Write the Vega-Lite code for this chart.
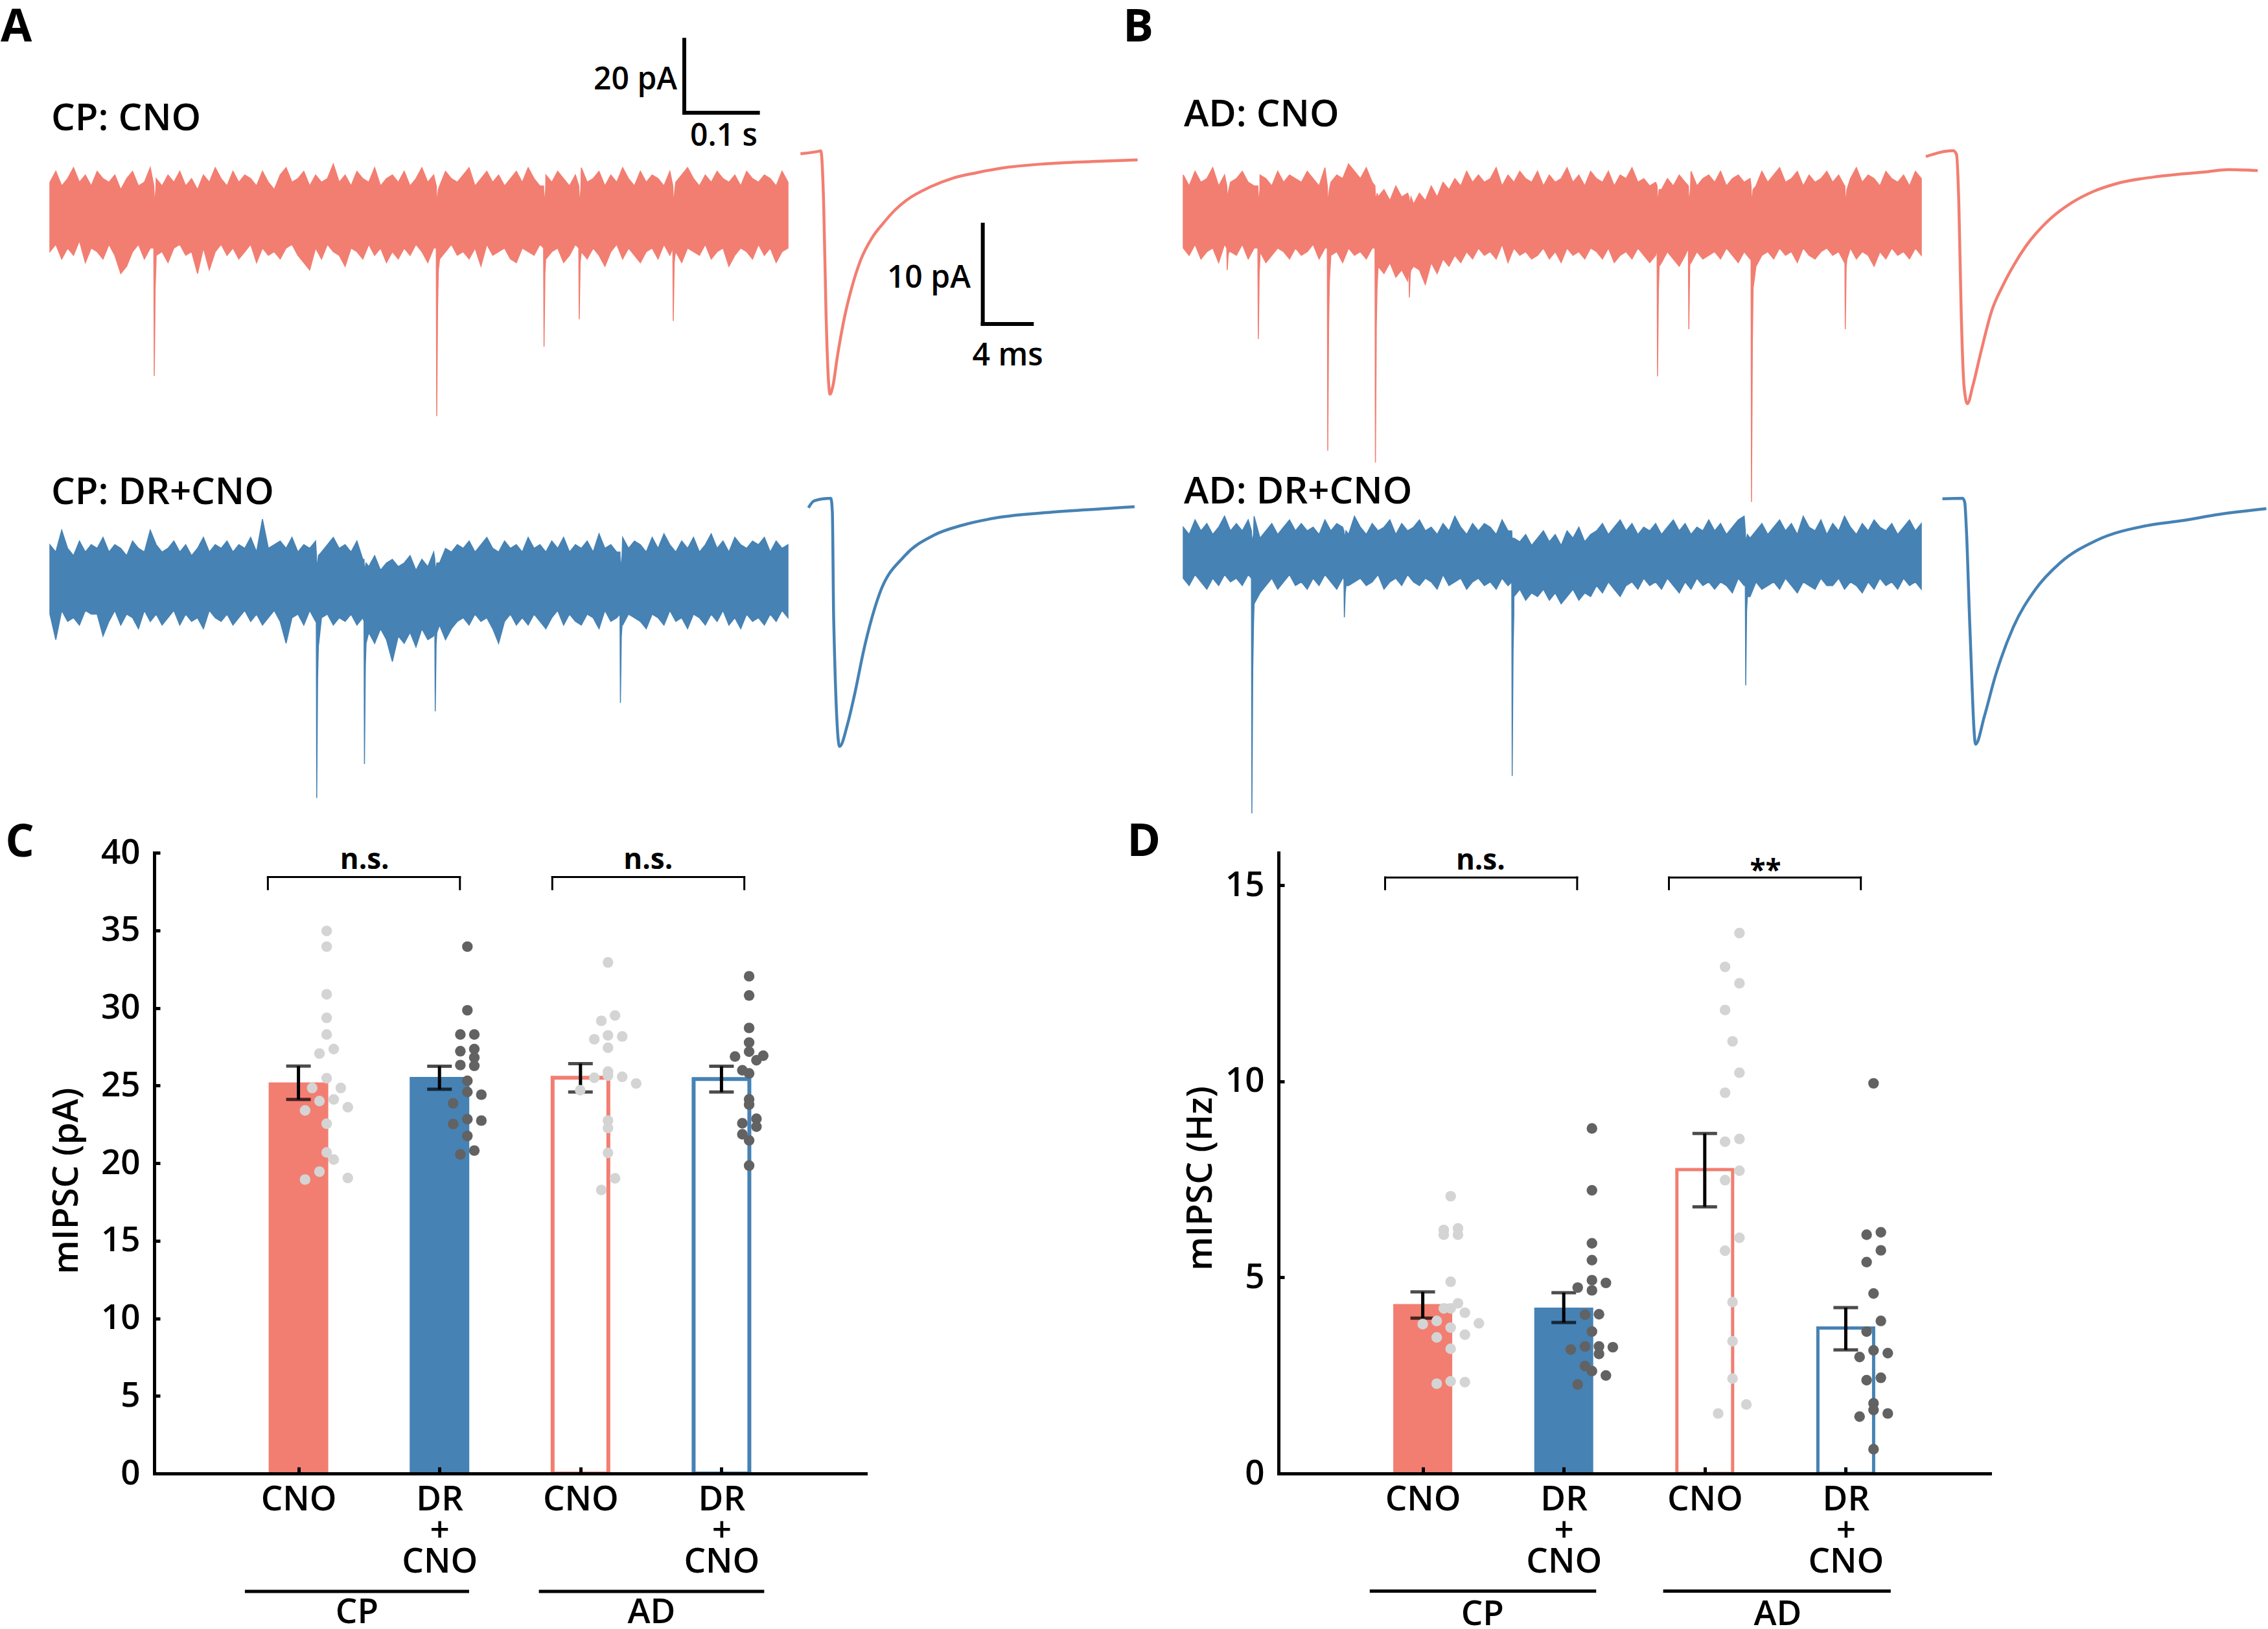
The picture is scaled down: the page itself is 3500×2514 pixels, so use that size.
{
"$schema":"https://vega.github.io/schema/vega-lite/v6.json",
"padding":0,
"background":"white",
"config":{"view":{"stroke":null},"axis":{"grid":false},"font":"Open Sans"},
"datasets":{
"a1":[{"t":0,"h":9,"l":-10},{"t":8,"h":12,"l":-8},{"t":16,"h":8,"l":-12},{"t":24,"h":10,"l":-9},{"t":32,"h":13,"l":-11},{"t":40,"h":9,"l":-7},{"t":48,"h":11,"l":-13},{"t":56,"h":8,"l":-9},{"t":64,"h":12,"l":-10},{"t":72,"h":10,"l":-12},
{"t":80,"h":9,"l":-8},{"t":88,"h":11,"l":-11},{"t":96,"h":7,"l":-16},{"t":104,"h":10,"l":-14},{"t":112,"h":12,"l":-10},{"t":120,"h":8,"l":-8},{"t":128,"h":9,"l":-12},{"t":136,"h":13,"l":-9},{"t":140.8,"h":8,"l":-9},{"t":141.4,"h":4,"l":-44},{"t":142.6,"h":5,"l":-20},{"t":143.6,"h":7,"l":-14},{"t":144,"h":10,"l":-11},{"t":152,"h":8,"l":-10},
{"t":160,"h":11,"l":-13},{"t":168,"h":9,"l":-9},{"t":176,"h":12,"l":-8},{"t":184,"h":8,"l":-11},{"t":192,"h":10,"l":-10},{"t":200,"h":7,"l":-16},{"t":208,"h":11,"l":-9},{"t":216,"h":9,"l":-15},{"t":224,"h":13,"l":-10},{"t":232,"h":10,"l":-8},
{"t":240,"h":8,"l":-11},{"t":248,"h":12,"l":-9},{"t":256,"h":9,"l":-12},{"t":264,"h":11,"l":-10},{"t":272,"h":10,"l":-8},{"t":280,"h":8,"l":-13},{"t":288,"h":12,"l":-9},{"t":296,"h":9,"l":-11},{"t":304,"h":7,"l":-10},{"t":312,"h":11,"l":-12},
{"t":320,"h":13,"l":-9},{"t":328,"h":9,"l":-8},{"t":336,"h":10,"l":-11},{"t":344,"h":12,"l":-13},{"t":352,"h":8,"l":-15},{"t":360,"h":11,"l":-9},{"t":368,"h":9,"l":-12},{"t":376,"h":10,"l":-8},{"t":384,"h":14,"l":-10},{"t":392,"h":9,"l":-11},
{"t":400,"h":11,"l":-14},{"t":408,"h":8,"l":-9},{"t":416,"h":12,"l":-10},{"t":424,"h":10,"l":-12},{"t":432,"h":9,"l":-8},{"t":440,"h":13,"l":-11},{"t":448,"h":8,"l":-9},{"t":456,"h":10,"l":-13},{"t":464,"h":11,"l":-10},{"t":472,"h":9,"l":-12},
{"t":480,"h":12,"l":-9},{"t":488,"h":8,"l":-11},{"t":496,"h":10,"l":-8},{"t":504,"h":13,"l":-10},{"t":512,"h":9,"l":-13},{"t":520,"h":11,"l":-9},{"t":523.5,"h":8,"l":-9},{"t":524.1,"h":4,"l":-55},{"t":525.3,"h":5,"l":-25},{"t":526.3,"h":7,"l":-15},{"t":528,"h":8,"l":-12},{"t":536,"h":12,"l":-10},{"t":544,"h":10,"l":-8},{"t":552,"h":9,"l":-11},
{"t":560,"h":11,"l":-10},{"t":568,"h":13,"l":-12},{"t":576,"h":8,"l":-9},{"t":584,"h":10,"l":-14},{"t":592,"h":12,"l":-8},{"t":600,"h":9,"l":-11},{"t":608,"h":11,"l":-10},{"t":616,"h":8,"l":-9},{"t":624,"h":10,"l":-12},{"t":632,"h":12,"l":-13},
{"t":640,"h":9,"l":-9},{"t":648,"h":13,"l":-10},{"t":656,"h":10,"l":-11},{"t":664,"h":8,"l":-8},{"t":668.9,"h":8,"l":-9},{"t":669.5,"h":4,"l":-36},{"t":670.7,"h":5,"l":-16},{"t":671.7,"h":7,"l":-12},{"t":672,"h":11,"l":-12},{"t":680,"h":9,"l":-10},{"t":688,"h":12,"l":-9},{"t":696,"h":10,"l":-13},{"t":704,"h":8,"l":-11},{"t":712,"h":11,"l":-8},
{"t":716.6,"h":8,"l":-9},{"t":717.2,"h":4,"l":-28.5},{"t":718.4,"h":5,"l":-13},{"t":719.4,"h":7,"l":-11},{"t":720,"h":13,"l":-10},{"t":728,"h":9,"l":-12},{"t":736,"h":10,"l":-9},{"t":744,"h":12,"l":-11},{"t":752,"h":8,"l":-14},{"t":760,"h":11,"l":-10},{"t":768,"h":9,"l":-8},{"t":776,"h":13,"l":-12},{"t":784,"h":10,"l":-9},{"t":792,"h":8,"l":-11},
{"t":800,"h":12,"l":-13},{"t":808,"h":9,"l":-10},{"t":816,"h":11,"l":-9},{"t":824,"h":10,"l":-12},{"t":832,"h":8,"l":-8},{"t":840,"h":12,"l":-11},{"t":844,"h":8,"l":-9},{"t":844.6,"h":4,"l":-29},{"t":845.8,"h":5,"l":-13},{"t":846.8,"h":7,"l":-11},{"t":848,"h":9,"l":-10},{"t":856,"h":11,"l":-13},{"t":864,"h":13,"l":-9},{"t":872,"h":10,"l":-10},
{"t":880,"h":8,"l":-11},{"t":888,"h":11,"l":-8},{"t":896,"h":9,"l":-12},{"t":904,"h":12,"l":-10},{"t":912,"h":10,"l":-9},{"t":920,"h":9,"l":-14},{"t":928,"h":11,"l":-11},{"t":936,"h":8,"l":-9},{"t":944,"h":12,"l":-10},{"t":952,"h":10,"l":-12},
{"t":960,"h":9,"l":-8},{"t":968,"h":11,"l":-11},{"t":976,"h":10,"l":-9},{"t":984,"h":8,"l":-13},{"t":992,"h":12,"l":-10},{"t":1000,"h":9,"l":-9}],
"a2":[{"t":0,"h":10,"l":-9},{"t":8,"h":8,"l":-16},{"t":16,"h":14,"l":-8},{"t":24,"h":9,"l":-11},{"t":32,"h":7,"l":-10},{"t":40,"h":11,"l":-12},{"t":48,"h":8,"l":-8},{"t":56,"h":10,"l":-9},{"t":64,"h":9,"l":-9},{"t":72,"h":12,"l":-15},
{"t":80,"h":8,"l":-11},{"t":88,"h":10,"l":-8},{"t":96,"h":9,"l":-12},{"t":104,"h":7,"l":-9},{"t":112,"h":11,"l":-10},{"t":120,"h":9,"l":-13},{"t":128,"h":8,"l":-8},{"t":136,"h":14,"l":-11},{"t":144,"h":10,"l":-9},{"t":152,"h":8,"l":-12},
{"t":160,"h":9,"l":-10},{"t":168,"h":11,"l":-8},{"t":176,"h":8,"l":-12},{"t":184,"h":10,"l":-9},{"t":192,"h":7,"l":-11},{"t":200,"h":9,"l":-10},{"t":208,"h":12,"l":-13},{"t":216,"h":8,"l":-8},{"t":224,"h":10,"l":-10},{"t":232,"h":9,"l":-11},
{"t":240,"h":11,"l":-9},{"t":248,"h":8,"l":-12},{"t":256,"h":10,"l":-10},{"t":264,"h":9,"l":-8},{"t":272,"h":12,"l":-11},{"t":280,"h":8,"l":-9},{"t":288,"h":17,"l":-12},{"t":296,"h":9,"l":-10},{"t":304,"h":10,"l":-8},{"t":312,"h":11,"l":-11},
{"t":320,"h":9,"l":-17},{"t":328,"h":12,"l":-10},{"t":336,"h":8,"l":-9},{"t":344,"h":10,"l":-12},{"t":352,"h":9,"l":-8},{"t":360,"h":11,"l":-11},{"t":360.9,"h":8,"l":-9},{"t":361.5,"h":4,"l":-59.3},{"t":362.7,"h":5,"l":-27},{"t":363.7,"h":7,"l":-18},{"t":368,"h":8,"l":-10},{"t":376,"h":10,"l":-9},{"t":384,"h":12,"l":-12},{"t":392,"h":9,"l":-10},
{"t":400,"h":10,"l":-11},{"t":408,"h":8,"l":-9},{"t":416,"h":11,"l":-12},{"t":424,"h":6,"l":-10},{"t":425.6,"h":6,"l":-11},{"t":426.2,"h":3,"l":-50},{"t":427.4,"h":4,"l":-23},{"t":428.4,"h":5,"l":-17},{"t":432,"h":4,"l":-14},{"t":440,"h":7,"l":-17},{"t":448,"h":3,"l":-13},{"t":456,"h":5,"l":-16},{"t":464,"h":6,"l":-22},{"t":472,"h":4,"l":-15},
{"t":480,"h":5,"l":-17},{"t":488,"h":7,"l":-14},{"t":496,"h":3,"l":-18},{"t":504,"h":6,"l":-13},{"t":512,"h":4,"l":-16},{"t":520,"h":8,"l":-15},{"t":521.5,"h":6,"l":-12},{"t":522.1,"h":3,"l":-35.6},{"t":523.3,"h":4,"l":-17},{"t":524.3,"h":5,"l":-14},{"t":528,"h":5,"l":-12},{"t":536,"h":9,"l":-16},{"t":544,"h":8,"l":-13},{"t":552,"h":10,"l":-11},
{"t":560,"h":9,"l":-10},{"t":568,"h":11,"l":-12},{"t":576,"h":8,"l":-9},{"t":584,"h":10,"l":-11},{"t":592,"h":12,"l":-10},{"t":600,"h":9,"l":-13},{"t":608,"h":8,"l":-17},{"t":616,"h":11,"l":-11},{"t":624,"h":9,"l":-9},{"t":632,"h":10,"l":-12},
{"t":640,"h":8,"l":-10},{"t":648,"h":12,"l":-12},{"t":656,"h":9,"l":-9},{"t":664,"h":10,"l":-11},{"t":672,"h":8,"l":-13},{"t":680,"h":11,"l":-10},{"t":688,"h":9,"l":-8},{"t":696,"h":12,"l":-12},{"t":704,"h":8,"l":-9},{"t":712,"h":10,"l":-11},
{"t":720,"h":9,"l":-12},{"t":728,"h":11,"l":-9},{"t":736,"h":8,"l":-10},{"t":744,"h":13,"l":-13},{"t":752,"h":9,"l":-8},{"t":760,"h":10,"l":-11},{"t":768,"h":8,"l":-10},{"t":772.4,"h":8,"l":-9},{"t":773,"h":4,"l":-33.3},{"t":774.2,"h":5,"l":-15},{"t":775.2,"h":7,"l":-12},{"t":776,"h":12,"l":-12},{"t":784,"h":9,"l":-9},{"t":792,"h":11,"l":-10},
{"t":800,"h":10,"l":-11},{"t":808,"h":8,"l":-13},{"t":816,"h":12,"l":-9},{"t":824,"h":9,"l":-10},{"t":832,"h":13,"l":-12},{"t":840,"h":10,"l":-8},{"t":848,"h":8,"l":-11},{"t":856,"h":11,"l":-10},{"t":864,"h":9,"l":-13},{"t":872,"h":12,"l":-9},
{"t":880,"h":8,"l":-10},{"t":888,"h":10,"l":-12},{"t":896,"h":13,"l":-9},{"t":904,"h":9,"l":-11},{"t":912,"h":11,"l":-8},{"t":920,"h":8,"l":-12},{"t":928,"h":12,"l":-10},{"t":936,"h":10,"l":-13},{"t":944,"h":9,"l":-9},{"t":952,"h":11,"l":-11},
{"t":960,"h":10,"l":-10},{"t":968,"h":12,"l":-12},{"t":976,"h":8,"l":-9},{"t":984,"h":11,"l":-11},{"t":992,"h":9,"l":-8},{"t":1000,"h":10,"l":-10}],
"b1":[{"t":0,"h":11,"l":-9},{"t":8,"h":8,"l":-11},{"t":16,"h":12,"l":-8},{"t":24,"h":9,"l":-12},{"t":32,"h":10,"l":-10},{"t":40,"h":13,"l":-9},{"t":48,"h":8,"l":-13},{"t":56,"h":11,"l":-8},{"t":59,"h":8,"l":-9},{"t":59.6,"h":5,"l":-15},{"t":60.8,"h":6,"l":-11},{"t":61.8,"h":7,"l":-10},{"t":64,"h":9,"l":-10},{"t":72,"h":10,"l":-11},
{"t":80,"h":12,"l":-8},{"t":88,"h":9,"l":-12},{"t":96,"h":8,"l":-9},{"t":101.1,"h":8,"l":-9},{"t":101.7,"h":4,"l":-33.9},{"t":102.9,"h":5,"l":-16},{"t":103.9,"h":7,"l":-12},{"t":104,"h":11,"l":-10},{"t":112,"h":10,"l":-13},{"t":120,"h":8,"l":-11},{"t":128,"h":12,"l":-9},{"t":136,"h":9,"l":-10},{"t":144,"h":11,"l":-12},{"t":152,"h":10,"l":-9},
{"t":160,"h":9,"l":-11},{"t":168,"h":12,"l":-10},{"t":176,"h":10,"l":-8},{"t":184,"h":8,"l":-12},{"t":192,"h":13,"l":-9},{"t":195.2,"h":8,"l":-9},{"t":195.8,"h":4,"l":-64.5},{"t":197,"h":5,"l":-29},{"t":198,"h":7,"l":-18},{"t":200,"h":9,"l":-11},{"t":208,"h":11,"l":-10},{"t":216,"h":10,"l":-13},{"t":224,"h":14,"l":-9},{"t":232,"h":12,"l":-11},
{"t":240,"h":10,"l":-10},{"t":248,"h":13,"l":-12},{"t":256,"h":9,"l":-9},{"t":259.8,"h":8,"l":-9},{"t":260.4,"h":4,"l":-67.7},{"t":261.6,"h":5,"l":-30},{"t":262.6,"h":6,"l":-20},{"t":264,"h":5,"l":-14},{"t":272,"h":7,"l":-16},{"t":280,"h":4,"l":-13},{"t":288,"h":8,"l":-17},{"t":296,"h":5,"l":-15},{"t":304,"h":6,"l":-18},{"t":305.8,"h":5,"l":-14},{"t":306.4,"h":3,"l":-22.5},{"t":307.6,"h":4,"l":-16},{"t":308.6,"h":5,"l":-15},{"t":312,"h":3,"l":-14},
{"t":320,"h":6,"l":-15},{"t":328,"h":4,"l":-19},{"t":336,"h":8,"l":-13},{"t":344,"h":5,"l":-16},{"t":352,"h":9,"l":-12},{"t":360,"h":7,"l":-14},{"t":368,"h":10,"l":-11},{"t":376,"h":8,"l":-13},{"t":384,"h":12,"l":-10},{"t":392,"h":9,"l":-12},
{"t":400,"h":11,"l":-9},{"t":408,"h":9,"l":-11},{"t":416,"h":10,"l":-10},{"t":424,"h":13,"l":-12},{"t":432,"h":8,"l":-8},{"t":440,"h":11,"l":-13},{"t":448,"h":9,"l":-9},{"t":456,"h":12,"l":-11},{"t":464,"h":10,"l":-10},{"t":472,"h":9,"l":-12},
{"t":480,"h":12,"l":-11},{"t":488,"h":8,"l":-9},{"t":496,"h":11,"l":-12},{"t":504,"h":9,"l":-10},{"t":512,"h":10,"l":-13},{"t":520,"h":13,"l":-9},{"t":528,"h":9,"l":-11},{"t":536,"h":11,"l":-10},{"t":544,"h":8,"l":-12},{"t":552,"h":12,"l":-9},
{"t":560,"h":10,"l":-10},{"t":568,"h":9,"l":-12},{"t":576,"h":12,"l":-9},{"t":584,"h":8,"l":-13},{"t":592,"h":11,"l":-11},{"t":600,"h":10,"l":-10},{"t":608,"h":13,"l":-12},{"t":616,"h":9,"l":-9},{"t":624,"h":10,"l":-11},{"t":632,"h":8,"l":-13},
{"t":640,"h":9,"l":-11},{"t":642,"h":8,"l":-9},{"t":642.6,"h":4,"l":-44.1},{"t":643.8,"h":5,"l":-20},{"t":644.8,"h":7,"l":-14},{"t":648,"h":7,"l":-13},{"t":656,"h":10,"l":-10},{"t":664,"h":8,"l":-12},{"t":672,"h":11,"l":-14},{"t":680,"h":9,"l":-11},{"t":684.4,"h":8,"l":-9},{"t":685,"h":4,"l":-31.2},{"t":686.2,"h":5,"l":-14},{"t":687.2,"h":7,"l":-12},{"t":688,"h":12,"l":-13},{"t":696,"h":8,"l":-10},{"t":704,"h":10,"l":-12},{"t":712,"h":11,"l":-11},
{"t":720,"h":9,"l":-10},{"t":728,"h":12,"l":-12},{"t":736,"h":8,"l":-9},{"t":744,"h":10,"l":-11},{"t":752,"h":11,"l":-13},{"t":760,"h":9,"l":-10},{"t":768,"h":10,"l":-12},{"t":769.3,"h":8,"l":-9},{"t":769.9,"h":4,"l":-78.5},{"t":771.1,"h":5,"l":-35},{"t":772.1,"h":7,"l":-20},{"t":776,"h":8,"l":-14},{"t":784,"h":12,"l":-11},{"t":792,"h":9,"l":-10},
{"t":800,"h":11,"l":-12},{"t":808,"h":13,"l":-9},{"t":816,"h":9,"l":-11},{"t":824,"h":10,"l":-10},{"t":832,"h":12,"l":-13},{"t":840,"h":8,"l":-9},{"t":848,"h":11,"l":-11},{"t":856,"h":9,"l":-12},{"t":864,"h":10,"l":-10},{"t":872,"h":12,"l":-9},
{"t":880,"h":9,"l":-11},{"t":888,"h":11,"l":-10},{"t":896,"h":8,"l":-13},{"t":896.4,"h":8,"l":-9},{"t":897,"h":4,"l":-31.2},{"t":898.2,"h":5,"l":-14},{"t":899.2,"h":7,"l":-12},{"t":904,"h":10,"l":-9},{"t":912,"h":13,"l":-12},{"t":920,"h":9,"l":-10},{"t":928,"h":11,"l":-11},{"t":936,"h":10,"l":-14},{"t":944,"h":8,"l":-10},{"t":952,"h":12,"l":-12},
{"t":960,"h":10,"l":-9},{"t":968,"h":9,"l":-11},{"t":976,"h":11,"l":-10},{"t":984,"h":8,"l":-12},{"t":992,"h":12,"l":-9},{"t":1000,"h":10,"l":-11}],
"b2":[{"t":0,"h":7,"l":-7},{"t":8,"h":5,"l":-9},{"t":16,"h":9,"l":-6},{"t":24,"h":6,"l":-8},{"t":32,"h":8,"l":-10},{"t":40,"h":5,"l":-7},{"t":48,"h":7,"l":-9},{"t":56,"h":10,"l":-6},{"t":64,"h":6,"l":-8},{"t":72,"h":8,"l":-7},
{"t":80,"h":6,"l":-9},{"t":88,"h":9,"l":-6},{"t":92.4,"h":6,"l":-7},{"t":93,"h":3,"l":-71.3},{"t":94.2,"h":4,"l":-32},{"t":95.2,"h":5,"l":-20},{"t":96,"h":10,"l":-14},{"t":104,"h":4,"l":-11},{"t":112,"h":6,"l":-9},{"t":120,"h":8,"l":-7},{"t":128,"h":5,"l":-10},{"t":136,"h":7,"l":-8},{"t":144,"h":9,"l":-6},{"t":152,"h":6,"l":-9},
{"t":160,"h":8,"l":-8},{"t":168,"h":6,"l":-10},{"t":176,"h":7,"l":-7},{"t":184,"h":5,"l":-9},{"t":192,"h":9,"l":-6},{"t":200,"h":6,"l":-8},{"t":208,"h":8,"l":-10},{"t":216,"h":7,"l":-7},{"t":217.7,"h":6,"l":-7},{"t":218.3,"h":4,"l":-17.7},{"t":219.5,"h":5,"l":-11},{"t":220.5,"h":6,"l":-9},{"t":224,"h":5,"l":-9},{"t":232,"h":10,"l":-8},
{"t":240,"h":7,"l":-7},{"t":248,"h":5,"l":-9},{"t":256,"h":8,"l":-8},{"t":264,"h":6,"l":-6},{"t":272,"h":7,"l":-10},{"t":280,"h":9,"l":-8},{"t":288,"h":5,"l":-7},{"t":296,"h":8,"l":-9},{"t":304,"h":6,"l":-6},{"t":312,"h":7,"l":-8},
{"t":320,"h":9,"l":-9},{"t":328,"h":6,"l":-7},{"t":336,"h":7,"l":-8},{"t":344,"h":5,"l":-10},{"t":352,"h":8,"l":-6},{"t":360,"h":6,"l":-9},{"t":368,"h":10,"l":-8},{"t":376,"h":7,"l":-7},{"t":384,"h":5,"l":-10},{"t":392,"h":8,"l":-8},
{"t":400,"h":6,"l":-7},{"t":408,"h":8,"l":-9},{"t":416,"h":7,"l":-8},{"t":424,"h":5,"l":-10},{"t":432,"h":9,"l":-7},{"t":440,"h":6,"l":-9},{"t":445.1,"h":6,"l":-8},{"t":445.7,"h":3,"l":-61.1},{"t":446.9,"h":4,"l":-27},{"t":447.9,"h":4,"l":-17},{"t":448,"h":4,"l":-12},{"t":456,"h":3,"l":-10},{"t":464,"h":5,"l":-13},{"t":472,"h":2,"l":-11},
{"t":480,"h":4,"l":-12},{"t":488,"h":6,"l":-10},{"t":496,"h":3,"l":-13},{"t":504,"h":5,"l":-11},{"t":512,"h":2,"l":-14},{"t":520,"h":6,"l":-12},{"t":528,"h":4,"l":-10},{"t":536,"h":7,"l":-13},{"t":544,"h":3,"l":-11},{"t":552,"h":5,"l":-12},
{"t":560,"h":6,"l":-9},{"t":568,"h":8,"l":-11},{"t":576,"h":5,"l":-8},{"t":584,"h":7,"l":-10},{"t":592,"h":9,"l":-12},{"t":600,"h":6,"l":-9},{"t":608,"h":8,"l":-8},{"t":616,"h":5,"l":-10},{"t":624,"h":7,"l":-7},{"t":632,"h":6,"l":-9},
{"t":640,"h":8,"l":-8},{"t":648,"h":5,"l":-10},{"t":656,"h":7,"l":-7},{"t":664,"h":9,"l":-9},{"t":672,"h":6,"l":-11},{"t":680,"h":8,"l":-8},{"t":688,"h":5,"l":-10},{"t":696,"h":7,"l":-7},{"t":704,"h":6,"l":-9},{"t":712,"h":9,"l":-8},
{"t":720,"h":6,"l":-10},{"t":728,"h":8,"l":-8},{"t":736,"h":5,"l":-9},{"t":744,"h":7,"l":-11},{"t":752,"h":9,"l":-7},{"t":760,"h":10,"l":-9},{"t":761.5,"h":6,"l":-8},{"t":762.1,"h":3,"l":-36.3},{"t":763.3,"h":4,"l":-16},{"t":764.3,"h":5,"l":-12},{"t":768,"h":4,"l":-12},{"t":776,"h":6,"l":-8},{"t":784,"h":8,"l":-10},{"t":792,"h":5,"l":-9},
{"t":800,"h":7,"l":-8},{"t":808,"h":9,"l":-10},{"t":816,"h":6,"l":-7},{"t":824,"h":8,"l":-9},{"t":832,"h":5,"l":-11},{"t":840,"h":10,"l":-8},{"t":848,"h":7,"l":-9},{"t":856,"h":6,"l":-10},{"t":864,"h":9,"l":-7},{"t":872,"h":5,"l":-9},
{"t":880,"h":8,"l":-9},{"t":888,"h":6,"l":-7},{"t":896,"h":10,"l":-10},{"t":904,"h":7,"l":-8},{"t":912,"h":5,"l":-9},{"t":920,"h":8,"l":-11},{"t":928,"h":6,"l":-8},{"t":936,"h":9,"l":-10},{"t":944,"h":7,"l":-7},{"t":952,"h":6,"l":-9},
{"t":960,"h":8,"l":-8},{"t":968,"h":5,"l":-10},{"t":976,"h":7,"l":-7},{"t":984,"h":9,"l":-9},{"t":992,"h":6,"l":-8},{"t":1000,"h":8,"l":-10}],
"c1":[{"t":0,"v":-0.15},{"t":1.51,"v":0.11},{"t":1.66,"v":0.15},{"t":1.89,"v":-5.1},{"t":2.08,"v":-16.0},{"t":2.26,"v":-22.5},{"t":2.41,"v":-24.4},{"t":2.64,"v":-23.6},{"t":3.01,"v":-20.6},{"t":3.58,"v":-16.7},{"t":4.15,"v":-13.8},{"t":4.9,"v":-10.9},{"t":5.85,"v":-8.6},{"t":6.79,"v":-7.1},{"t":7.73,"v":-5.8},{"t":8.68,"v":-4.8},{"t":10.57,"v":-3.5},{"t":12.45,"v":-2.6},{"t":14.34,"v":-2.07},{"t":16.23,"v":-1.63},{"t":20.0,"v":-1.16},{"t":23.8,"v":-0.93},{"t":27.5,"v":-0.76}],
"c2":[{"t":0,"v":-0.82},{"t":0.47,"v":-0.12},{"t":1.83,"v":0.13},{"t":1.95,"v":-1.24},{"t":2.06,"v":-12.1},{"t":2.54,"v":-24.9},{"t":3.2,"v":-22.6},{"t":3.72,"v":-19.9},{"t":4.6,"v":-14.7},{"t":5.78,"v":-9.56},{"t":7.84,"v":-5.69},{"t":10.2,"v":-3.61},{"t":12.56,"v":-2.58},{"t":15.51,"v":-1.8},{"t":19.64,"v":-1.29},{"t":24.36,"v":-0.9},{"t":26.6,"v":-0.72}],
"d1":[{"t":0,"v":-0.37},{"t":2.23,"v":0.22},{"t":2.5,"v":-0.15},{"t":2.69,"v":-5.05},{"t":2.88,"v":-15.9},{"t":3.12,"v":-23.6},{"t":3.39,"v":-25.3},{"t":3.81,"v":-23.6},{"t":4.45,"v":-20.3},{"t":5.38,"v":-15.9},{"t":6.31,"v":-13.3},{"t":7.23,"v":-11.2},{"t":8.16,"v":-9.41},{"t":10.02,"v":-6.8},{"t":11.87,"v":-5.05},{"t":13.72,"v":-3.86},{"t":15.58,"v":-3.09},{"t":19.28,"v":-2.33},{"t":22.99,"v":-1.9},{"t":24.66,"v":-1.68},{"t":27.07,"v":-1.78}],
"d2":[{"t":0,"v":-0.05},{"t":1.65,"v":0},{"t":1.82,"v":-0.4},{"t":1.95,"v":-3.0},{"t":2.24,"v":-13.0},{"t":2.71,"v":-24.8},{"t":3.42,"v":-22.0},{"t":4.3,"v":-18.0},{"t":5.78,"v":-13.0},{"t":7.55,"v":-9.25},{"t":9.61,"v":-6.5},{"t":12.56,"v":-4.25},{"t":16.69,"v":-2.75},{"t":19.64,"v":-2.24},{"t":22.59,"v":-1.62},{"t":26.42,"v":-1.05}],
"bc":[{"p":1,"g":"CP","c":"CNO","m":25.2,"lo":24.1,"hi":26.25},{"p":2,"g":"CP","c":"DR","m":25.55,"lo":24.76,"hi":26.24},{"p":3,"g":"AD","c":"CNO","m":25.5,"lo":24.58,"hi":26.41},{"p":4,"g":"AD","c":"DR","m":25.42,"lo":24.58,"hi":26.24}],
"bd":[{"p":1,"g":"CP","c":"CNO","m":4.32,"lo":3.96,"hi":4.63},{"p":2,"g":"CP","c":"DR","m":4.23,"lo":3.85,"hi":4.61},{"p":3,"g":"AD","c":"CNO","m":7.75,"lo":6.8,"hi":8.67},{"p":4,"g":"AD","c":"DR","m":3.71,"lo":3.15,"hi":4.23}],
"pc":[{"x":1.2,"v":34.96,"k":"L"},{"x":1.2,"v":33.95,"k":"L"},{"x":1.2,"v":30.88,"k":"L"},{"x":1.2,"v":29.36,"k":"L"},{"x":1.2,"v":28.29,"k":"L"},{"x":1.149,"v":27.06,"k":"L"},{"x":1.25,"v":27.35,"k":"L"},{"x":1.2,"v":25.47,"k":"L"},{"x":1.097,"v":24.84,"k":"L"},{"x":1.3,"v":24.84,"k":"L"},{"x":1.149,"v":24.0,"k":"L"},{"x":1.25,"v":24.1,"k":"L"},{"x":1.047,"v":23.39,"k":"L"},{"x":1.35,"v":23.6,"k":"L"},{"x":1.2,"v":22.54,"k":"L"},{"x":1.2,"v":20.69,"k":"L"},{"x":1.25,"v":20.23,"k":"L"},{"x":1.149,"v":19.45,"k":"L"},{"x":1.047,"v":18.94,"k":"L"},{"x":1.35,"v":19.04,"k":"L"},
{"x":2.198,"v":33.95,"k":"D"},{"x":2.198,"v":29.85,"k":"D"},{"x":2.148,"v":28.29,"k":"D"},{"x":2.247,"v":28.29,"k":"D"},{"x":2.148,"v":27.21,"k":"D"},{"x":2.247,"v":27.35,"k":"D"},{"x":2.247,"v":26.8,"k":"D"},{"x":2.148,"v":26.32,"k":"D"},{"x":2.247,"v":26.27,"k":"D"},{"x":2.198,"v":25.3,"k":"D"},{"x":2.198,"v":24.58,"k":"D"},{"x":2.297,"v":24.41,"k":"D"},{"x":2.097,"v":23.85,"k":"D"},{"x":2.198,"v":22.83,"k":"D"},{"x":2.297,"v":22.74,"k":"D"},{"x":2.097,"v":22.52,"k":"D"},{"x":2.198,"v":21.75,"k":"D"},{"x":2.247,"v":20.81,"k":"D"},{"x":2.148,"v":20.56,"k":"D"},
{"x":3.195,"v":32.93,"k":"L"},{"x":3.245,"v":29.51,"k":"L"},{"x":3.148,"v":29.17,"k":"L"},{"x":3.195,"v":28.23,"k":"L"},{"x":3.296,"v":28.16,"k":"L"},{"x":3.098,"v":27.98,"k":"L"},{"x":3.195,"v":27.43,"k":"L"},{"x":3.195,"v":25.9,"k":"L"},{"x":3.195,"v":25.64,"k":"L"},{"x":3.098,"v":25.5,"k":"L"},{"x":3.296,"v":25.56,"k":"L"},{"x":3.395,"v":25.13,"k":"L"},{"x":2.998,"v":24.7,"k":"L"},{"x":3.195,"v":22.74,"k":"L"},{"x":3.195,"v":22.26,"k":"L"},{"x":3.195,"v":20.66,"k":"L"},{"x":3.245,"v":19.02,"k":"L"},{"x":3.148,"v":18.27,"k":"L"},
{"x":4.196,"v":32.04,"k":"D"},{"x":4.196,"v":30.8,"k":"D"},{"x":4.196,"v":28.71,"k":"D"},{"x":4.196,"v":27.77,"k":"D"},{"x":4.196,"v":27.18,"k":"D"},{"x":4.096,"v":26.87,"k":"D"},{"x":4.296,"v":26.92,"k":"D"},{"x":4.248,"v":26.63,"k":"D"},{"x":4.148,"v":25.98,"k":"D"},{"x":4.196,"v":25.78,"k":"D"},{"x":4.196,"v":24.11,"k":"D"},{"x":4.196,"v":23.77,"k":"D"},{"x":4.248,"v":22.86,"k":"D"},{"x":4.148,"v":22.57,"k":"D"},{"x":4.248,"v":22.35,"k":"D"},{"x":4.148,"v":21.86,"k":"D"},{"x":4.196,"v":21.46,"k":"D"},{"x":4.196,"v":19.84,"k":"D"}],
"pd":[{"x":1.198,"v":7.07,"k":"L"},{"x":1.149,"v":6.21,"k":"L"},{"x":1.149,"v":6.09,"k":"L"},{"x":1.25,"v":6.25,"k":"L"},{"x":1.25,"v":6.09,"k":"L"},{"x":1.198,"v":4.89,"k":"L"},{"x":1.25,"v":4.34,"k":"L"},{"x":1.149,"v":4.21,"k":"L"},{"x":1.198,"v":4.21,"k":"L"},{"x":1.299,"v":4.1,"k":"L"},{"x":1.0,"v":3.81,"k":"L"},{"x":1.099,"v":3.89,"k":"L"},{"x":1.198,"v":3.72,"k":"L"},{"x":1.398,"v":3.83,"k":"L"},{"x":1.099,"v":3.47,"k":"L"},{"x":1.299,"v":3.54,"k":"L"},{"x":1.198,"v":3.18,"k":"L"},{"x":1.099,"v":2.29,"k":"L"},{"x":1.198,"v":2.35,"k":"L"},{"x":1.299,"v":2.33,"k":"L"},
{"x":2.2,"v":8.8,"k":"D"},{"x":2.2,"v":7.22,"k":"D"},{"x":2.2,"v":5.87,"k":"D"},{"x":2.2,"v":5.44,"k":"D"},{"x":2.2,"v":4.93,"k":"D"},{"x":2.099,"v":4.74,"k":"D"},{"x":2.299,"v":4.86,"k":"D"},{"x":2.2,"v":4.67,"k":"D"},{"x":2.151,"v":4.05,"k":"D"},{"x":2.25,"v":4.06,"k":"D"},{"x":2.2,"v":3.62,"k":"D"},{"x":2.05,"v":3.16,"k":"D"},{"x":2.151,"v":3.24,"k":"D"},{"x":2.25,"v":3.24,"k":"D"},{"x":2.348,"v":3.22,"k":"D"},{"x":2.25,"v":3.05,"k":"D"},{"x":2.151,"v":2.74,"k":"D"},{"x":2.2,"v":2.61,"k":"D"},{"x":2.299,"v":2.5,"k":"D"},{"x":2.099,"v":2.27,"k":"D"},
{"x":3.246,"v":13.78,"k":"L"},{"x":3.144,"v":12.92,"k":"L"},{"x":3.246,"v":12.5,"k":"L"},{"x":3.144,"v":11.82,"k":"L"},{"x":3.197,"v":11.02,"k":"L"},{"x":3.246,"v":10.22,"k":"L"},{"x":3.144,"v":9.71,"k":"L"},{"x":3.144,"v":8.46,"k":"L"},{"x":3.246,"v":8.53,"k":"L"},{"x":3.246,"v":7.72,"k":"L"},{"x":3.144,"v":7.48,"k":"L"},{"x":3.246,"v":6.01,"k":"L"},{"x":3.144,"v":5.68,"k":"L"},{"x":3.197,"v":4.37,"k":"L"},{"x":3.197,"v":3.37,"k":"L"},{"x":3.197,"v":2.42,"k":"L"},{"x":3.295,"v":1.76,"k":"L"},{"x":3.095,"v":1.53,"k":"L"},
{"x":4.197,"v":9.95,"k":"D"},{"x":4.148,"v":6.09,"k":"D"},{"x":4.249,"v":6.15,"k":"D"},{"x":4.249,"v":5.69,"k":"D"},{"x":4.148,"v":5.39,"k":"D"},{"x":4.197,"v":4.59,"k":"D"},{"x":4.249,"v":3.89,"k":"D"},{"x":4.148,"v":3.62,"k":"D"},{"x":4.197,"v":3.14,"k":"D"},{"x":4.098,"v":2.97,"k":"D"},{"x":4.298,"v":3.07,"k":"D"},{"x":4.148,"v":2.38,"k":"D"},{"x":4.249,"v":2.44,"k":"D"},{"x":4.197,"v":1.79,"k":"D"},{"x":4.197,"v":1.62,"k":"D"},{"x":4.098,"v":1.45,"k":"D"},{"x":4.298,"v":1.53,"k":"D"},{"x":4.197,"v":0.62,"k":"D"}]
},
"spacing":0,
"bounds":"flush",
"vconcat":[
{
"width":3263,"height":1316,
"resolve":{"scale":{"x":"independent","y":"independent"}},
"layer":[
{"layer":[
 {"data":{"name":"a1"},"mark":{"type":"area","orient":"vertical","color":"#F27E71","stroke":"#F27E71","strokeWidth":1.5,"clip":false},
  "encoding":{"x":{"field":"t","type":"quantitative","scale":{"domain":[141.35,3006.15],"nice":false,"zero":false},"axis":null},"y":{"field":"h","type":"quantitative","scale":{"domain":[-174.47,58.87],"nice":false,"zero":false},"axis":null},"y2":{"field":"l"}}},
 {"data":{"values":[{}]},"mark":{"type":"rule","color":"black","strokeWidth":6,"strokeCap":"square","clip":false},
  "encoding":{"x":{"datum":859.5,"type":"quantitative","scale":{"domain":[141.35,3006.15],"nice":false,"zero":false},"axis":null},"y":{"datum":47.98,"type":"quantitative","scale":{"domain":[-174.47,58.87],"nice":false,"zero":false},"axis":null},"y2":{"datum":28.0}}},
 {"data":{"values":[{}]},"mark":{"type":"rule","color":"black","strokeWidth":6,"strokeCap":"square","clip":false},
  "encoding":{"x":{"datum":859.5,"type":"quantitative","scale":{"domain":[141.35,3006.15],"nice":false,"zero":false},"axis":null},"x2":{"datum":959.3},"y":{"datum":28.0,"type":"quantitative","scale":{"domain":[-174.47,58.87],"nice":false,"zero":false},"axis":null}}},
 {"data":{"values":[{}]},"mark":{"type":"text","text":"20 pA","align":"right","baseline":"middle","fontSize":48,"fontWeight":600,"font":"Open Sans","color":"black","clip":false},
  "encoding":{"x":{"datum":849.9,"type":"quantitative","scale":{"domain":[141.35,3006.15],"nice":false,"zero":false},"axis":null},"y":{"datum":36.93,"type":"quantitative","scale":{"domain":[-174.47,58.87],"nice":false,"zero":false},"axis":null}}},
 {"data":{"values":[{}]},"mark":{"type":"text","text":"0.1 s","align":"center","baseline":"middle","fontSize":48,"fontWeight":600,"font":"Open Sans","color":"black","clip":false},
  "encoding":{"x":{"datum":913.1,"type":"quantitative","scale":{"domain":[141.35,3006.15],"nice":false,"zero":false},"axis":null},"y":{"datum":21.51,"type":"quantitative","scale":{"domain":[-174.47,58.87],"nice":false,"zero":false},"axis":null}}},
 {"data":{"values":[{}]},"mark":{"type":"text","text":"CP: CNO","align":"left","baseline":"middle","fontSize":58,"fontWeight":600,"font":"Open Sans","color":"black","clip":false},
  "encoding":{"x":{"datum":1.76,"type":"quantitative","scale":{"domain":[141.35,3006.15],"nice":false,"zero":false},"axis":null},"y":{"datum":26.24,"type":"quantitative","scale":{"domain":[-174.47,58.87],"nice":false,"zero":false},"axis":null}}},
 {"data":{"values":[{}]},"mark":{"type":"text","text":"A","align":"left","baseline":"middle","fontSize":70,"fontWeight":"bold","font":"Open Sans","color":"black","clip":false},
  "encoding":{"x":{"datum":-66.73,"type":"quantitative","scale":{"domain":[141.35,3006.15],"nice":false,"zero":false},"axis":null},"y":{"datum":51.24,"type":"quantitative","scale":{"domain":[-174.47,58.87],"nice":false,"zero":false},"axis":null}}}
]},
{"layer":[
 {"data":{"name":"a2"},"mark":{"type":"area","orient":"vertical","color":"#4682B4","stroke":"#4682B4","strokeWidth":1.5,"clip":false},
  "encoding":{"x":{"field":"t","type":"quantitative","scale":{"domain":[141.35,3006.15],"nice":false,"zero":false},"axis":null},"y":{"field":"h","type":"quantitative","scale":{"domain":[-74.29,159.04],"nice":false,"zero":false},"axis":null},"y2":{"field":"l"}}},
 {"data":{"values":[{}]},"mark":{"type":"text","text":"CP: DR+CNO","align":"left","baseline":"middle","fontSize":58,"fontWeight":600,"font":"Open Sans","color":"black","clip":false},
  "encoding":{"x":{"datum":1.76,"type":"quantitative","scale":{"domain":[141.35,3006.15],"nice":false,"zero":false},"axis":null},"y":{"datum":24.06,"type":"quantitative","scale":{"domain":[-74.29,159.04],"nice":false,"zero":false},"axis":null}}}
]},
{"layer":[
 {"data":{"name":"b1"},"mark":{"type":"area","orient":"vertical","color":"#F27E71","stroke":"#F27E71","strokeWidth":1.5,"clip":false},
  "encoding":{"x":{"field":"t","type":"quantitative","scale":{"domain":[-1394.2,1470.6],"nice":false,"zero":false},"axis":null},"y":{"field":"h","type":"quantitative","scale":{"domain":[-174.47,58.87],"nice":false,"zero":false},"axis":null},"y2":{"field":"l"}}},
 {"data":{"values":[{}]},"mark":{"type":"text","text":"AD: CNO","align":"left","baseline":"middle","fontSize":58,"fontWeight":600,"font":"Open Sans","color":"black","clip":false},
  "encoding":{"x":{"datum":0.88,"type":"quantitative","scale":{"domain":[-1394.2,1470.6],"nice":false,"zero":false},"axis":null},"y":{"datum":27.34,"type":"quantitative","scale":{"domain":[-174.47,58.87],"nice":false,"zero":false},"axis":null}}},
 {"data":{"values":[{}]},"mark":{"type":"text","text":"B","align":"left","baseline":"middle","fontSize":70,"fontWeight":"bold","font":"Open Sans","color":"black","clip":false},
  "encoding":{"x":{"datum":-81.65,"type":"quantitative","scale":{"domain":[-1394.2,1470.6],"nice":false,"zero":false},"axis":null},"y":{"datum":51.24,"type":"quantitative","scale":{"domain":[-174.47,58.87],"nice":false,"zero":false},"axis":null}}}
]},
{"layer":[
 {"data":{"name":"b2"},"mark":{"type":"area","orient":"vertical","color":"#4682B4","stroke":"#4682B4","strokeWidth":1.5,"clip":false},
  "encoding":{"x":{"field":"t","type":"quantitative","scale":{"domain":[-1394.2,1470.6],"nice":false,"zero":false},"axis":null},"y":{"field":"h","type":"quantitative","scale":{"domain":[-82.09,151.24],"nice":false,"zero":false},"axis":null},"y2":{"field":"l"}}},
 {"data":{"values":[{}]},"mark":{"type":"text","text":"AD: DR+CNO","align":"left","baseline":"middle","fontSize":58,"fontWeight":600,"font":"Open Sans","color":"black","clip":false},
  "encoding":{"x":{"datum":0.88,"type":"quantitative","scale":{"domain":[-1394.2,1470.6],"nice":false,"zero":false},"axis":null},"y":{"datum":16.44,"type":"quantitative","scale":{"domain":[-82.09,151.24],"nice":false,"zero":false},"axis":null}}}
]},
{"layer":[
 {"data":{"name":"c1"},"mark":{"type":"line","interpolate":"monotone","color":"#F27E71","strokeWidth":4.5,"clip":false},
  "encoding":{"x":{"field":"t","type":"quantitative","scale":{"domain":[-52.71,119.75],"nice":false,"zero":false},"axis":null},"y":{"field":"v","type":"quantitative","scale":{"domain":[-70.65,15.36],"nice":false,"zero":false},"axis":null}}},
 {"data":{"values":[{}]},"mark":{"type":"rule","color":"black","strokeWidth":6,"strokeCap":"square","clip":false},
  "encoding":{"x":{"datum":14.87,"type":"quantitative","scale":{"domain":[-52.71,119.75],"nice":false,"zero":false},"axis":null},"y":{"datum":-7.3,"type":"quantitative","scale":{"domain":[-70.65,15.36],"nice":false,"zero":false},"axis":null},"y2":{"datum":-17.32}}},
 {"data":{"values":[{}]},"mark":{"type":"rule","color":"black","strokeWidth":6,"strokeCap":"square","clip":false},
  "encoding":{"x":{"datum":14.87,"type":"quantitative","scale":{"domain":[-52.71,119.75],"nice":false,"zero":false},"axis":null},"x2":{"datum":18.87},"y":{"datum":-17.32,"type":"quantitative","scale":{"domain":[-70.65,15.36],"nice":false,"zero":false},"axis":null}}},
 {"data":{"values":[{}]},"mark":{"type":"text","text":"10 pA","align":"right","baseline":"middle","fontSize":48,"fontWeight":600,"font":"Open Sans","color":"black","clip":false},
  "encoding":{"x":{"datum":13.88,"type":"quantitative","scale":{"domain":[-52.71,119.75],"nice":false,"zero":false},"axis":null},"y":{"datum":-12.75,"type":"quantitative","scale":{"domain":[-70.65,15.36],"nice":false,"zero":false},"axis":null}}},
 {"data":{"values":[{}]},"mark":{"type":"text","text":"4 ms","align":"center","baseline":"middle","fontSize":48,"fontWeight":600,"font":"Open Sans","color":"black","clip":false},
  "encoding":{"x":{"datum":16.9,"type":"quantitative","scale":{"domain":[-52.71,119.75],"nice":false,"zero":false},"axis":null},"y":{"datum":-20.59,"type":"quantitative","scale":{"domain":[-70.65,15.36],"nice":false,"zero":false},"axis":null}}}
]},
{"data":{"name":"c2"},"mark":{"type":"line","interpolate":"monotone","color":"#4682B4","strokeWidth":4.5,"clip":false},
 "encoding":{"x":{"field":"t","type":"quantitative","scale":{"domain":[-53.36,119.1],"nice":false,"zero":false},"axis":null},"y":{"field":"v","type":"quantitative","scale":{"domain":[-35.62,50.39],"nice":false,"zero":false},"axis":null}}},
{"data":{"name":"d1"},"mark":{"type":"line","interpolate":"monotone","color":"#F27E71","strokeWidth":4.5,"clip":false},
 "encoding":{"x":{"field":"t","type":"quantitative","scale":{"domain":[-144.5,27.96],"nice":false,"zero":false},"axis":null},"y":{"field":"v","type":"quantitative","scale":{"domain":[-70.59,15.42],"nice":false,"zero":false},"axis":null}}},
{"data":{"name":"d2"},"mark":{"type":"line","interpolate":"monotone","color":"#4682B4","strokeWidth":4.5,"clip":false},
 "encoding":{"x":{"field":"t","type":"quantitative","scale":{"domain":[-145.86,26.61],"nice":false,"zero":false},"axis":null},"y":{"field":"v","type":"quantitative","scale":{"domain":[-35.75,50.26],"nice":false,"zero":false},"axis":null}}}
]
},
{
"spacing":637,
"bounds":"flush",
"hconcat":[
{
"width":1098,"height":958,
"layer":[
 {"data":{"name":"bc"},"transform":[{"filter":"datum.g == 'CP'"}],"mark":{"type":"bar","size":92,"orient":"vertical"},
  "encoding":{
   "x":{"field":"p","type":"quantitative","scale":{"domain":[0,5],"nice":false,"zero":false},
        "axis":{"values":[1,2,3,4],"labelExpr":"datum.value == 1 || datum.value == 3 ? 'CNO' : ['DR','+','CNO']","title":null,"tickSize":-10,"tickWidth":5,"tickColor":"black","domainWidth":5,"domainColor":"black","domainCap":"square","labelPadding":24,"labelFontSize":53,"labelFont":"Open Sans","labelFontWeight":600,"labelColor":"black","labelLineHeight":48,"labelBaseline":"top","labelFlush":false,"labelOverlap":false,"grid":false,"zindex":1}},
   "y":{"field":"m","type":"quantitative","stack":null,"scale":{"domain":[0,40],"nice":false,"zero":false},
        "axis":{"values":[0,5,10,15,20,25,30,35,40],"format":"d","title":"mIPSC (pA)","titleFontSize":55,"titleFont":"Open Sans","titleFontWeight":600,"titleColor":"black","titlePadding":24,"titleY":506,"tickSize":-9,"tickWidth":5,"tickColor":"black","domainWidth":5,"domainColor":"black","domainCap":"square","labelPadding":31,"labelFontSize":53,"labelFont":"Open Sans","labelFontWeight":600,"labelColor":"black","labelFlush":false,"labelOverlap":false,"grid":false,"zindex":1}},
   "color":{"field":"c","type":"nominal","scale":{"domain":["CNO","DR"],"range":["#F27E71","#4682B4"]},"legend":null}}},
 {"data":{"name":"bc"},"transform":[{"filter":"datum.g == 'AD'"}],"mark":{"type":"bar","size":86,"orient":"vertical","fill":"white","strokeWidth":6},
  "encoding":{"x":{"field":"p","type":"quantitative"},"y":{"field":"m","type":"quantitative","stack":null},
   "stroke":{"field":"c","type":"nominal","scale":{"domain":["CNO","DR"],"range":["#F27E71","#4682B4"]},"legend":null}}},
 {"data":{"name":"bc"},"mark":{"type":"rule","color":"black","strokeWidth":5},
  "encoding":{"x":{"field":"p","type":"quantitative"},"y":{"field":"lo","type":"quantitative"},"y2":{"field":"hi"}}},
 {"data":{"name":"bc"},"mark":{"type":"tick","orient":"horizontal","color":"black","size":38,"thickness":5},
  "encoding":{"x":{"field":"p","type":"quantitative"},"y":{"field":"lo","type":"quantitative"}}},
 {"data":{"name":"bc"},"mark":{"type":"tick","orient":"horizontal","color":"black","size":38,"thickness":5},
  "encoding":{"x":{"field":"p","type":"quantitative"},"y":{"field":"hi","type":"quantitative"}}},
 {"data":{"name":"pc"},"mark":{"type":"circle","size":270,"opacity":1},
  "encoding":{"x":{"field":"x","type":"quantitative"},"y":{"field":"v","type":"quantitative"},
   "fill":{"field":"k","type":"nominal","scale":{"domain":["L","D"],"range":["#D4D4D4","#626262"]},"legend":null}}},
 {"data":{"values":[{}]},"mark":{"type":"rule","color":"black","strokeWidth":3,"strokeCap":"square","clip":false},"encoding":{"x":{"datum":0.783},"x2":{"datum":2.145},"y":{"datum":38.43}}},
 {"data":{"values":[{}]},"mark":{"type":"rule","color":"black","strokeWidth":3,"strokeCap":"square","clip":false},"encoding":{"x":{"datum":0.783},"y":{"datum":38.43},"y2":{"datum":37.65}}},
 {"data":{"values":[{}]},"mark":{"type":"rule","color":"black","strokeWidth":3,"strokeCap":"square","clip":false},"encoding":{"x":{"datum":2.145},"y":{"datum":38.43},"y2":{"datum":37.65}}},
 {"data":{"values":[{}]},"mark":{"type":"rule","color":"black","strokeWidth":3,"strokeCap":"square","clip":false},"encoding":{"x":{"datum":2.8},"x2":{"datum":4.162},"y":{"datum":38.43}}},
 {"data":{"values":[{}]},"mark":{"type":"rule","color":"black","strokeWidth":3,"strokeCap":"square","clip":false},"encoding":{"x":{"datum":2.8},"y":{"datum":38.43},"y2":{"datum":37.65}}},
 {"data":{"values":[{}]},"mark":{"type":"rule","color":"black","strokeWidth":3,"strokeCap":"square","clip":false},"encoding":{"x":{"datum":4.162},"y":{"datum":38.43},"y2":{"datum":37.65}}},
 {"data":{"values":[{}]},"mark":{"type":"rule","color":"black","strokeWidth":5,"clip":false},"encoding":{"x":{"datum":0.62},"x2":{"datum":2.21},"y":{"datum":-7.6}}},
 {"data":{"values":[{}]},"mark":{"type":"rule","color":"black","strokeWidth":5,"clip":false},"encoding":{"x":{"datum":2.705},"x2":{"datum":4.303},"y":{"datum":-7.6}}},
 {"data":{"values":[{}]},"mark":{"type":"text","text":"n.s.","align":"center","baseline":"middle","fontSize":44,"fontWeight":"bold","font":"Open Sans","color":"black","clip":false},"encoding":{"x":{"datum":1.469},"y":{"datum":39.5}}},
 {"data":{"values":[{}]},"mark":{"type":"text","text":"n.s.","align":"center","baseline":"middle","fontSize":44,"fontWeight":"bold","font":"Open Sans","color":"black","clip":false},"encoding":{"x":{"datum":3.48},"y":{"datum":39.5}}},
 {"data":{"values":[{}]},"mark":{"type":"text","text":"CP","align":"center","baseline":"middle","fontSize":53,"fontWeight":600,"font":"Open Sans","color":"black","clip":false},"encoding":{"x":{"datum":1.415},"y":{"datum":-8.97}}},
 {"data":{"values":[{}]},"mark":{"type":"text","text":"AD","align":"center","baseline":"middle","fontSize":53,"fontWeight":600,"font":"Open Sans","color":"black","clip":false},"encoding":{"x":{"datum":3.504},"y":{"datum":-8.97}}},
 {"data":{"values":[{}]},"mark":{"type":"text","text":"C","align":"left","baseline":"middle","fontSize":70,"fontWeight":"bold","font":"Open Sans","color":"black","clip":false},"encoding":{"x":{"datum":-1.079},"y":{"datum":40.62}}}
]
},
{
"width":1098,"height":958,
"layer":[
 {"data":{"name":"bd"},"transform":[{"filter":"datum.g == 'CP'"}],"mark":{"type":"bar","size":91,"orient":"vertical"},
  "encoding":{
   "x":{"field":"p","type":"quantitative","scale":{"domain":[0,5],"nice":false,"zero":false},
        "axis":{"values":[1,2,3,4],"labelExpr":"datum.value == 1 || datum.value == 3 ? 'CNO' : ['DR','+','CNO']","title":null,"tickSize":-10,"tickWidth":5,"tickColor":"black","domainWidth":5,"domainColor":"black","domainCap":"square","labelPadding":24,"labelFontSize":53,"labelFont":"Open Sans","labelFontWeight":600,"labelColor":"black","labelLineHeight":48,"labelBaseline":"top","labelFlush":false,"labelOverlap":false,"grid":false,"zindex":1}},
   "y":{"field":"m","type":"quantitative","stack":null,"scale":{"domain":[0,15.83],"nice":false,"zero":false},
        "axis":{"values":[0,5,10,15],"format":"d","title":"mIPSC (Hz)","titleFontSize":55,"titleFont":"Open Sans","titleFontWeight":600,"titleColor":"black","titlePadding":9,"titleY":502,"tickSize":-9,"tickWidth":5,"tickColor":"black","domainWidth":5,"domainColor":"black","domainCap":"square","labelPadding":31,"labelFontSize":53,"labelFont":"Open Sans","labelFontWeight":600,"labelColor":"black","labelFlush":false,"labelOverlap":false,"grid":false,"zindex":1}},
   "color":{"field":"c","type":"nominal","scale":{"domain":["CNO","DR"],"range":["#F27E71","#4682B4"]},"legend":null}}},
 {"data":{"name":"bd"},"transform":[{"filter":"datum.g == 'AD'"}],"mark":{"type":"bar","size":86,"orient":"vertical","fill":"white","strokeWidth":5},
  "encoding":{"x":{"field":"p","type":"quantitative"},"y":{"field":"m","type":"quantitative","stack":null},
   "stroke":{"field":"c","type":"nominal","scale":{"domain":["CNO","DR"],"range":["#F27E71","#4682B4"]},"legend":null}}},
 {"data":{"name":"bd"},"mark":{"type":"rule","color":"black","strokeWidth":5},
  "encoding":{"x":{"field":"p","type":"quantitative"},"y":{"field":"lo","type":"quantitative"},"y2":{"field":"hi"}}},
 {"data":{"name":"bd"},"mark":{"type":"tick","orient":"horizontal","color":"black","size":38,"thickness":5},
  "encoding":{"x":{"field":"p","type":"quantitative"},"y":{"field":"lo","type":"quantitative"}}},
 {"data":{"name":"bd"},"mark":{"type":"tick","orient":"horizontal","color":"black","size":38,"thickness":5},
  "encoding":{"x":{"field":"p","type":"quantitative"},"y":{"field":"hi","type":"quantitative"}}},
 {"data":{"name":"pd"},"mark":{"type":"circle","size":270,"opacity":1},
  "encoding":{"x":{"field":"x","type":"quantitative"},"y":{"field":"v","type":"quantitative"},
   "fill":{"field":"k","type":"nominal","scale":{"domain":["L","D"],"range":["#D4D4D4","#626262"]},"legend":null}}},
 {"data":{"values":[{}]},"mark":{"type":"rule","color":"black","strokeWidth":3,"strokeCap":"square","clip":false},"encoding":{"x":{"datum":0.733},"x2":{"datum":2.095},"y":{"datum":15.2}}},
 {"data":{"values":[{}]},"mark":{"type":"rule","color":"black","strokeWidth":3,"strokeCap":"square","clip":false},"encoding":{"x":{"datum":0.733},"y":{"datum":15.2},"y2":{"datum":14.9}}},
 {"data":{"values":[{}]},"mark":{"type":"rule","color":"black","strokeWidth":3,"strokeCap":"square","clip":false},"encoding":{"x":{"datum":2.095},"y":{"datum":15.2},"y2":{"datum":14.9}}},
 {"data":{"values":[{}]},"mark":{"type":"rule","color":"black","strokeWidth":3,"strokeCap":"square","clip":false},"encoding":{"x":{"datum":2.746},"x2":{"datum":4.107},"y":{"datum":15.2}}},
 {"data":{"values":[{}]},"mark":{"type":"rule","color":"black","strokeWidth":3,"strokeCap":"square","clip":false},"encoding":{"x":{"datum":2.746},"y":{"datum":15.2},"y2":{"datum":14.9}}},
 {"data":{"values":[{}]},"mark":{"type":"rule","color":"black","strokeWidth":3,"strokeCap":"square","clip":false},"encoding":{"x":{"datum":4.107},"y":{"datum":15.2},"y2":{"datum":14.9}}},
 {"data":{"values":[{}]},"mark":{"type":"rule","color":"black","strokeWidth":5,"clip":false},"encoding":{"x":{"datum":0.624},"x2":{"datum":2.23},"y":{"datum":-3.0}}},
 {"data":{"values":[{}]},"mark":{"type":"rule","color":"black","strokeWidth":5,"clip":false},"encoding":{"x":{"datum":2.705},"x2":{"datum":4.319},"y":{"datum":-3.0}}},
 {"data":{"values":[{}]},"mark":{"type":"text","text":"n.s.","align":"center","baseline":"middle","fontSize":44,"fontWeight":"bold","font":"Open Sans","color":"black","clip":false},"encoding":{"x":{"datum":1.41},"y":{"datum":15.61}}},
 {"data":{"values":[{}]},"mark":{"type":"text","text":"**","align":"center","baseline":"middle","fontSize":44,"fontWeight":"bold","font":"Open Sans","color":"black","clip":false},"encoding":{"x":{"datum":3.43},"y":{"datum":15.35}}},
 {"data":{"values":[{}]},"mark":{"type":"text","text":"CP","align":"center","baseline":"middle","fontSize":53,"fontWeight":600,"font":"Open Sans","color":"black","clip":false},"encoding":{"x":{"datum":1.424},"y":{"datum":-3.6}}},
 {"data":{"values":[{}]},"mark":{"type":"text","text":"AD","align":"center","baseline":"middle","fontSize":53,"fontWeight":600,"font":"Open Sans","color":"black","clip":false},"encoding":{"x":{"datum":3.518},"y":{"datum":-3.6}}},
 {"data":{"values":[{}]},"mark":{"type":"text","text":"D","align":"left","baseline":"middle","fontSize":70,"fontWeight":"bold","font":"Open Sans","color":"black","clip":false},"encoding":{"x":{"datum":-1.097},"y":{"datum":16.09}}}
]
}
]
}
]
}
